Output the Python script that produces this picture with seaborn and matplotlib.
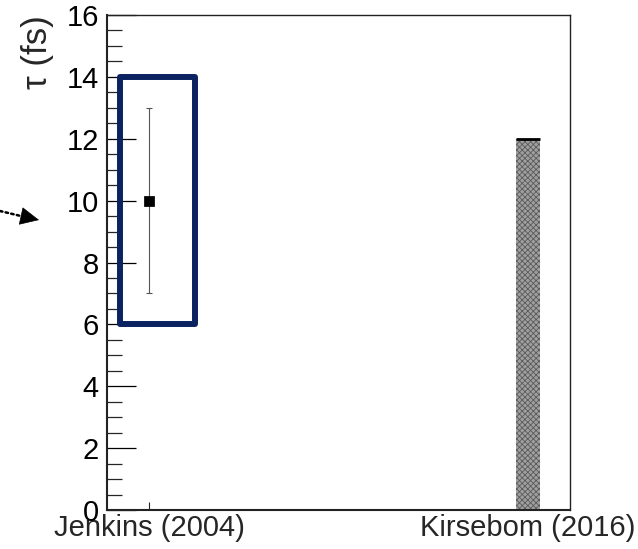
import matplotlib
matplotlib.use("Agg")
import matplotlib.pyplot as plt
from matplotlib.patches import Rectangle
from matplotlib.ticker import MultipleLocator
import seaborn as sns
import pandas as pd
import numpy as np

# Lifetime measurements
categories = ["Jenkins (2004)", "Kirsebom (2016)"]
bar_values = [np.nan, 12.0]          # Kirsebom upper-limit bar
point_value = 10.0                   # Jenkins central value
point_err_low = 3.0
point_err_high = 3.0
box_low, box_high = 6.0, 14.0        # highlighted range for Jenkins

sns.set_theme(style="ticks")
plt.rcParams["font.family"] = ["Liberation Sans", "DejaVu Sans"]
plt.rcParams["hatch.linewidth"] = 0.6

fig = plt.figure(figsize=(6.38, 5.49), dpi=100)
ax = fig.add_axes([107 / 638, 1 - 510 / 549, (570 - 107) / 638, (510 - 15) / 549])

df = pd.DataFrame({"label": categories, "tau": bar_values})
sns.barplot(data=df, x="label", y="tau", order=categories, width=0.063,
            color="#8c8c8c", saturation=1, ax=ax, errorbar=None)
for p in ax.patches:
    p.set_facecolor("#a0a0a0")
    p.set_edgecolor("#5a5a5a")
    p.set_hatch("xxxxxx")
    p.set_linewidth(0)
    x0, w, h = p.get_x(), p.get_width(), p.get_height()
    if np.isfinite(h):
        ax.plot([x0, x0 + w], [h, h], color="black", lw=2, solid_capstyle="butt", zorder=3)

# Jenkins point with error bar
ax.errorbar([0], [point_value], yerr=[[point_err_low], [point_err_high]],
            fmt="none", ecolor="#555555", elinewidth=0.8, capsize=2.5, capthick=0.8, zorder=4)
sns.scatterplot(x=[0], y=[point_value], marker="s", s=45, color="black",
                edgecolor="black", ax=ax, zorder=5, legend=False)

# Range box
ax.add_patch(Rectangle((-0.077, box_low), 0.198, box_high - box_low, fill=False,
                       edgecolor="#0b2361", linewidth=4.3, joinstyle="round", zorder=6))

ax.set_xlim(-0.111, 1.111)
ax.set_ylim(0, 16)
ax.yaxis.set_major_locator(MultipleLocator(2))
ax.yaxis.set_minor_locator(MultipleLocator(0.5))
ax.tick_params(axis="y", which="major", direction="in", length=21, width=0.9,
               labelsize=21, pad=6, colors="black")
ax.tick_params(axis="y", which="minor", direction="in", length=11, width=0.9)
ax.tick_params(axis="x", which="major", direction="in", length=6, width=0.8,
               labelsize=21, pad=3)
ax.set_xlabel("")
ax.set_ylabel("τ (fs)", fontsize=25, loc="top", labelpad=9)

for side in ["top", "right"]:
    ax.spines[side].set_visible(True)
    ax.spines[side].set_linewidth(1.0)
    ax.spines[side].set_color("#222222")
for side in ["left", "bottom"]:
    ax.spines[side].set_linewidth(1.5)
    ax.spines[side].set_color("#222222")

# Dotted pointer arrow on the left margin: dotted shaft plus solid head
ax.annotate("", xy=(25, 549 - 217), xycoords="figure pixels",
            xytext=(0, 549 - 211), textcoords="figure pixels",
            arrowprops=dict(arrowstyle="-", linestyle=(0, (1, 1.3)), lw=1.8,
                            color="black", shrinkA=0, shrinkB=0),
            annotation_clip=False)
ax.annotate("", xy=(39, 549 - 220), xycoords="figure pixels",
            xytext=(24, 549 - 216.7), textcoords="figure pixels",
            arrowprops=dict(arrowstyle="-|>,head_length=1.05,head_width=0.5",
                            lw=0.5, color="black", shrinkA=0, shrinkB=0),
            annotation_clip=False)

fig.savefig("out.png", dpi=100)
